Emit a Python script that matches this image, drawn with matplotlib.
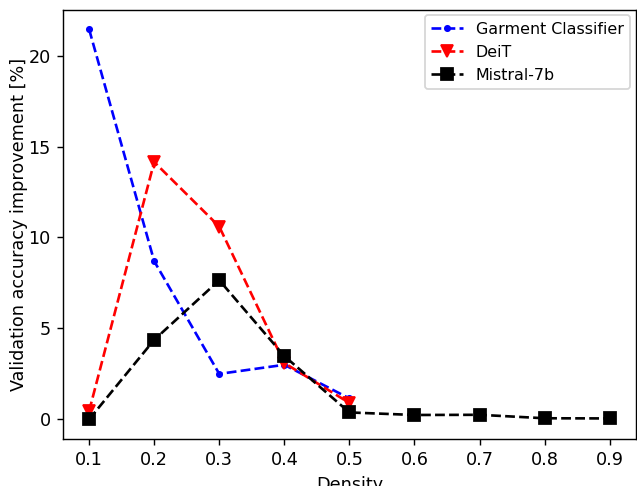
import matplotlib
matplotlib.use("Agg")
import matplotlib.pyplot as plt

density = [0.1, 0.2, 0.3, 0.4, 0.5, 0.6, 0.7, 0.8, 0.9]

garment_x = [0.1, 0.2, 0.3, 0.4, 0.5]
garment = [21.45, 8.7, 2.5, 3.0, 1.15]

deit_x = [0.1, 0.2, 0.3, 0.4, 0.5]
deit = [0.45, 14.15, 10.6, 3.1, 0.9]

mistral = [0.0, 4.37, 7.65, 3.48, 0.38, 0.24, 0.25, 0.06, 0.05]

# figure was rendered at a higher dpi and is ~637x486 px
fig = plt.figure(figsize=(637 / 127, 486 / 127), dpi=127)
ax = fig.add_subplot(111)
fig.subplots_adjust(left=0.099, right=0.998, top=0.980, bottom=0.097)

ax.plot(garment_x, garment, '.--', color='blue', label="Garment Classifier")
ax.plot(deit_x, deit, 'v--', color='red', markersize=7, label="DeiT")
ax.plot(density, mistral, 's--', color='black', markersize=7, label="Mistral-7b")

ax.set_xticks(density)
ax.set_xlabel("Density")
ax.set_ylabel("Validation accuracy improvement [%]", labelpad=0)
ax.legend(loc='upper right', fontsize=9, borderaxespad=0.35)

fig.savefig("out.png")
